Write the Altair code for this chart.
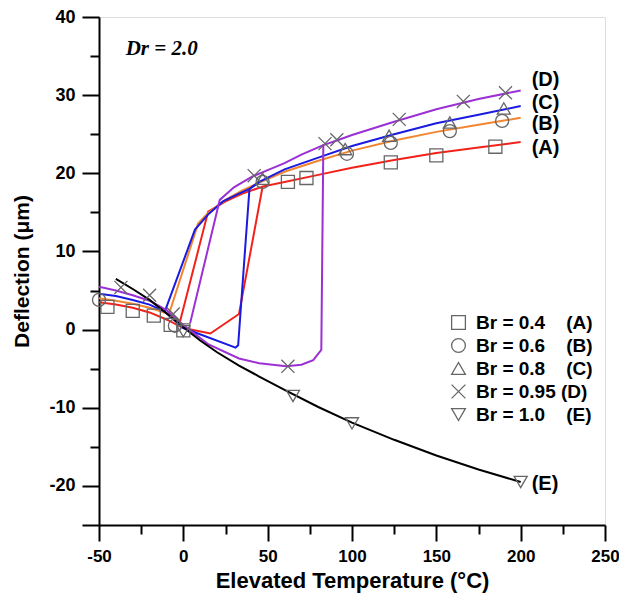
import altair as alt
import pandas as pd

# ---------------- data ----------------
# Curve A: Br = 0.4 (red). main path (heating) and return branch (cooling)
A_main_T = [-50, -40, -30, -20, -10, 0, 16, 33, 47, 60, 80, 100, 125, 150, 175, 200]
A_main_D = [3.5, 3.2, 2.8, 2.2, 1.3, 0.2, -0.5, 2.0, 18.3, 18.9, 19.8, 20.7, 21.7, 22.6, 23.3, 24.0]
A_ret_T = [47, 35, 25, 14.7, -2]
A_ret_D = [18.3, 17.4, 16.4, 15.1, 1.0]

# Curve B: Br = 0.6 (orange)
B_main_T = [-50, -40, -30, -20, -8.5, 8.8, 15, 25, 35, 45, 60, 80, 100, 125, 150, 175, 200]
B_main_D = [4.0, 3.7, 3.3, 2.8, 2.0, 13.6, 15.0, 16.6, 17.8, 18.8, 20.2, 21.6, 22.9, 24.2, 25.3, 26.2, 27.1]
B_ret_T = [-8.5, 0]
B_ret_D = [2.0, 0.3]

# Curve C: Br = 0.8 (blue)
C_main_T = [-50, -40, -30, -20, -11, 0, 31, 32.5, 39.2, 45, 60, 80, 100, 125, 150, 175, 200]
C_main_D = [4.6, 4.3, 3.8, 3.2, 2.3, 0.2, -2.3, -2.0, 18.0, 18.9, 20.5, 22.0, 23.5, 25.0, 26.4, 27.5, 28.6]
C_ret_T = [45, 39.2, 32, 23.5, 15, 6.9, -11]
C_ret_D = [18.9, 18.0, 17.3, 16.4, 14.8, 12.8, 2.3]

# Curve D: Br = 0.95 (purple)
D_main_T = [-50, -40, -30, -20, -10, 0, 15, 33, 45, 61, 70, 77, 81.8, 83, 91, 100, 125, 150, 175, 200]
D_main_D = [5.5, 5.0, 4.4, 3.7, 2.5, 0.6, -1.9, -3.7, -4.3, -4.7, -4.5, -3.9, -2.6, 23.6, 24.2, 24.9, 26.6, 28.2, 29.5, 30.6]
D_ret_T = [83, 70, 60, 50, 41, 30, 21.6, 4]
D_ret_D = [23.6, 22.4, 21.3, 20.4, 19.6, 18.2, 16.6, 0.8]

# Curve E: Br = 1.0 (black)
E_T = [-40, -30, -20, -10, 0, 10, 20, 33, 45, 60, 80, 100, 125, 150, 175, 200]
E_D = [6.5, 5.2, 3.8, 2.1, 0.3, -1.4, -2.9, -4.6, -6.0, -7.7, -9.9, -11.9, -14.1, -16.1, -17.9, -19.5]

# Marker points
mA_T = [-45, -30, -17.5, -7.5, 0, 62, 73, 123, 150, 185]
mA_D = [2.9, 2.4, 1.8, 0.6, -0.1, 18.9, 19.4, 21.4, 22.3, 23.4]
mB_T = [-50, -5, 47, 97, 123, 158, 189]
mB_D = [3.8, 0.5, 18.9, 22.5, 23.9, 25.4, 26.7]
mC_T = [47, 96, 122, 158, 190]
mC_D = [19.3, 23.1, 24.8, 26.5, 28.3]
mD_T = [-37, -20, -6, 42, 62, 84, 91, 128, 166, 191]
mD_D = [5.4, 4.4, 2.0, 19.7, -4.7, 23.8, 24.3, 26.9, 29.2, 30.3]
mE_T = [0, 65, 100, 200]
mE_D = [-0.2, -8.5, -12.0, -19.5]

series_keys = ["A", "B", "C", "D", "E"]
series_colors = ["#F2221B", "#F28530", "#1A1AE0", "#9B30D4", "#000000"]
legend_labels = [
    "Br = 0.4\u00a0\u00a0\u00a0\u00a0(A)",
    "Br = 0.6\u00a0\u00a0\u00a0\u00a0(B)",
    "Br = 0.8\u00a0\u00a0\u00a0\u00a0(C)",
    "Br = 0.95\u00a0(D)",
    "Br = 1.0\u00a0\u00a0\u00a0\u00a0(E)",
]
marker_shapes = ["square", "circle", "triangle-up", "M-1,-1L1,1M-1,1L1,-1", "triangle-down"]

curve_tags = ["(A)", "(B)", "(C)", "(D)", "(E)"]
curve_tag_T = [206.5, 206.5, 206.5, 206.5, 206.5]
curve_tag_D = [23.3, 26.3, 29.0, 32.0, -19.7]

note_text = ["Dr = 2.0"]
note_T = [-34.2]
note_D = [35.9]

# ---------------- tables ----------------
line_rows = []
def add_line(key, seg, T, D):
    for i, (t, d) in enumerate(zip(T, D)):
        line_rows.append({"series": key, "seg": key + seg, "idx": i, "T": t, "D": d})

add_line("A", "m", A_main_T, A_main_D)
add_line("A", "r", A_ret_T, A_ret_D)
add_line("B", "m", B_main_T, B_main_D)
add_line("B", "r", B_ret_T, B_ret_D)
add_line("C", "m", C_main_T, C_main_D)
add_line("C", "r", C_ret_T, C_ret_D)
add_line("D", "m", D_main_T, D_main_D)
add_line("D", "r", D_ret_T, D_ret_D)
add_line("E", "m", E_T, E_D)
lines_df = pd.DataFrame(line_rows)

pt_rows = []
for lab, T, D in zip(legend_labels, [mA_T, mB_T, mC_T, mD_T, mE_T], [mA_D, mB_D, mC_D, mD_D, mE_D]):
    for t, d in zip(T, D):
        pt_rows.append({"Br": lab, "T": t, "D": d})
pts_df = pd.DataFrame(pt_rows)

tags_df = pd.DataFrame({"tag": curve_tags, "T": curve_tag_T, "D": curve_tag_D})
note_df = pd.DataFrame({"txt": note_text, "T": note_T, "D": note_D})

# ---------------- encodings ----------------
FONT = "Liberation Sans"

x_axis = alt.Axis(
    values=list(range(-50, 251, 25)),
    labelExpr="datum.value % 50 === 0 ? '' + datum.value : ''",
    tickSize={"condition": {"test": "datum.value % 50 === 0", "value": 16}, "value": 9},
    grid=False, labelFont=FONT, labelFontSize=17, labelFontWeight="bold", labelColor="black",
    labelPadding=7, titleFont=FONT, titleFontSize=22, titleFontWeight="bold", titleColor="black",
    titlePadding=6, domainColor="black", domainWidth=2, tickColor="black", tickWidth=2,
    labelFlush=False, labelOverlap=False,
)
y_axis = alt.Axis(
    values=list(range(-25, 41, 5)),
    labelExpr="datum.value % 10 === 0 ? '' + datum.value : ''",
    tickSize={"condition": {"test": "datum.value % 10 === 0 || datum.value === -25", "value": 17}, "value": 9},
    grid=False, labelFont=FONT, labelFontSize=18, labelFontWeight="bold", labelColor="black",
    labelPadding=7, titleFont=FONT, titleFontSize=21, titleFontWeight="bold", titleColor="black",
    titlePadding=16, domainColor="black", domainWidth=2, tickColor="black", tickWidth=2,
    labelFlush=False, labelOverlap=False,
)

def xenc():
    return alt.X("T:Q", scale=alt.Scale(domain=[-50, 250], nice=False, zero=False),
                 axis=x_axis, title="Elevated Temperature (°C)")

def yenc():
    return alt.Y("D:Q", scale=alt.Scale(domain=[-25, 40], nice=False, zero=False),
                 axis=y_axis, title="Deflection (μm)")

lines = alt.Chart(lines_df).mark_line(strokeWidth=2, clip=True).encode(
    x=xenc(), y=yenc(),
    color=alt.Color("series:N", scale=alt.Scale(domain=series_keys, range=series_colors), legend=None),
    detail="seg:N",
    order="idx:Q",
)

points = alt.Chart(pts_df).mark_point(filled=False, color="#666666", strokeWidth=1.3, size=170, opacity=1).encode(
    x=xenc(), y=yenc(),
    shape=alt.Shape("Br:N", scale=alt.Scale(domain=legend_labels, range=marker_shapes),
                    legend=alt.Legend(title=None, orient="none", legendX=350, legendY=296,
                                      labelFont=FONT, labelFontSize=19, labelFontWeight="bold",
                                      labelColor="black", symbolSize=190, symbolStrokeWidth=1.3,
                                      symbolStrokeColor="#666666", symbolFillColor="transparent",
                                      rowPadding=3, labelOffset=8, padding=0, labelLimit=300)),
)

tags = alt.Chart(tags_df).mark_text(font=FONT, fontSize=20, fontWeight="bold", align="left",
                                    baseline="middle", color="black").encode(
    x=xenc(), y=yenc(), text="tag:N")

note = alt.Chart(note_df).mark_text(font="Liberation Serif", fontSize=21, fontWeight="bold",
                                    fontStyle="italic", align="left", baseline="middle",
                                    color="black").encode(
    x=xenc(), y=yenc(), text="txt:N")

chart = alt.layer(lines, points, tags, note).properties(
    width=506, height=508,
    autosize=alt.AutoSizeParams(type="none"),
    padding={"left": 91, "top": 9, "right": 14, "bottom": 70},
).configure_view(stroke="black", strokeWidth=2).configure(background="white")

chart.save("out.html", embed_options={"renderer": "svg", "actions": False})
